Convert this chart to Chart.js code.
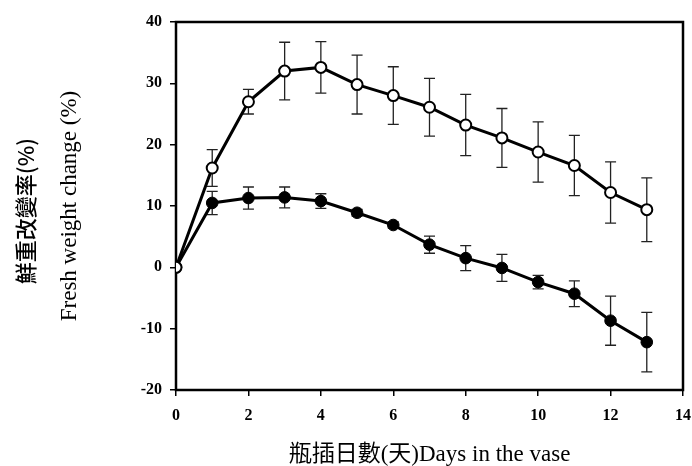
<!DOCTYPE html>
<html>
<head>
<meta charset="utf-8">
<script src="https://cdn.jsdelivr.net/npm/chart.js@4"></script>
<style>
  body { margin: 0; background: #fff; }
  #wrap { width: 692px; height: 466px; }
</style>
</head>
<body>
<div id="wrap"><canvas id="chart"></canvas></div>
<script>
// data
const days = [0, 1, 2, 3, 4, 5, 6, 7, 8, 9, 10, 11, 12, 13];
const openMean = [0, 16.2, 27.0, 32.0, 32.6, 29.8, 28.0, 26.1, 23.2, 21.1, 18.8, 16.6, 12.2, 9.4];
const openErr = [0, 3.0, 2.0, 4.7, 4.2, 4.8, 4.7, 4.7, 5.0, 4.8, 4.9, 4.9, 5.0, 5.2];
const filledMean = [0, 10.5, 11.3, 11.4, 10.8, 8.9, 6.9, 3.7, 1.5, -0.1, -2.4, -4.3, -8.7, -12.2];
const filledErr = [0, 1.9, 1.8, 1.7, 1.2, 0.55, 0.5, 1.4, 2.05, 2.2, 1.1, 2.1, 4.0, 4.85];
const xTicks = [0, 2, 4, 6, 8, 10, 12, 14];
const yTicks = [-20, -10, 0, 10, 20, 30, 40];

const serif = '"Liberation Serif", "Times New Roman", "Noto Sans CJK TC", serif';

const toPoints = (ys) => days.map((d, i) => ({ x: d, y: ys[i] }));

// box around the plot + error bars, drawn under the markers
const framePlugin = {
    id: 'frame',
    beforeDatasetsDraw(chart) {
        const { ctx, chartArea: a, scales: { x, y } } = chart;
        ctx.save();
        ctx.strokeStyle = '#000';
        ctx.lineWidth = 2.5;
        ctx.strokeRect(a.left, a.top, a.right - a.left, a.bottom - a.top);

        ctx.strokeStyle = '#222';
        ctx.lineWidth = 1.3;
        const cap = 5.5;
        [[openMean, openErr], [filledMean, filledErr]].forEach(([m, e]) => {
            days.forEach((d, i) => {
                if (!e[i]) return;
                const px = x.getPixelForValue(d);
                const top = y.getPixelForValue(m[i] + e[i]);
                const bot = y.getPixelForValue(m[i] - e[i]);
                ctx.beginPath();
                ctx.moveTo(px, top); ctx.lineTo(px, bot);
                ctx.moveTo(px - cap, top); ctx.lineTo(px + cap, top);
                ctx.moveTo(px - cap, bot); ctx.lineTo(px + cap, bot);
                ctx.stroke();
            });
        });
        ctx.restore();
    },
    afterDraw(chart) {
        // chinese y title, outside the english one
        const { ctx, chartArea: a } = chart;
        ctx.save();
        ctx.translate(26, (a.top + a.bottom) / 2 + 5);
        ctx.rotate(-Math.PI / 2);
        ctx.font = '500 22px "Noto Sans CJK TC", sans-serif';
        ctx.fillStyle = '#000';
        ctx.textAlign = 'center';
        ctx.textBaseline = 'middle';
        ctx.fillText('鮮重改變率(%)', 0, 0);
        ctx.restore();
    }
};

const ctx = document.getElementById('chart').getContext('2d');
new Chart(ctx, {
    type: 'line',
    data: {
        datasets: [{
            label: 'open',
            data: toPoints(openMean),
            borderColor: '#000',
            borderWidth: 3,
            pointRadius: 5.5,
            pointBorderWidth: 2,
            pointBackgroundColor: '#fff',
            pointBorderColor: '#000',
            tension: 0
        }, {
            label: 'filled',
            data: toPoints(filledMean),
            borderColor: '#000',
            borderWidth: 3,
            pointRadius: 5.8,
            pointBorderWidth: 1,
            pointBackgroundColor: '#000',
            pointBorderColor: '#000',
            tension: 0
        }]
    },
    options: {
        responsive: true,
        maintainAspectRatio: false,
        animation: false,
        layout: { padding: { left: 46, right: 9, top: 22, bottom: 0 } },
        plugins: {
            legend: { display: false },
            tooltip: { enabled: false }
        },
        scales: {
            x: {
                type: 'linear',
                min: 0,
                max: 14,
                afterBuildTicks: (s) => { s.ticks = xTicks.map(v => ({ value: v })); },
                afterFit: (s) => { s.height = 76; s.paddingRight = 0; s.paddingLeft = 0; },
                border: { display: false },
                grid: { drawOnChartArea: false, drawTicks: true, tickLength: 6, color: '#000', lineWidth: 1.5 },
                ticks: { color: '#000', padding: 10, font: { family: serif, size: 16, weight: 'bold' } },
                title: {
                    display: true,
                    text: '瓶插日數(天)Days in the vase',
                    color: '#000',
                    font: { family: serif, size: 23, lineHeight: 1 },
                    padding: { top: 0, bottom: 0 }
                }
            },
            y: {
                type: 'linear',
                min: -20,
                max: 40,
                afterBuildTicks: (s) => { s.ticks = yTicks.map(v => ({ value: v })); },
                afterFit: (s) => { s.width = 130; },
                border: { display: false },
                grid: { drawOnChartArea: false, drawTicks: true, tickLength: 6, color: '#000', lineWidth: 1.5 },
                ticks: { color: '#000', padding: 8, font: { family: serif, size: 16, weight: 'bold' } },
                title: {
                    display: true,
                    text: 'Fresh weight change (%)',
                    color: '#000',
                    font: { family: serif, size: 23, lineHeight: 1 },
                    padding: { top: 12, bottom: 0 }
                }
            }
        }
    },
    plugins: [framePlugin]
});
</script>
</body>
</html>
